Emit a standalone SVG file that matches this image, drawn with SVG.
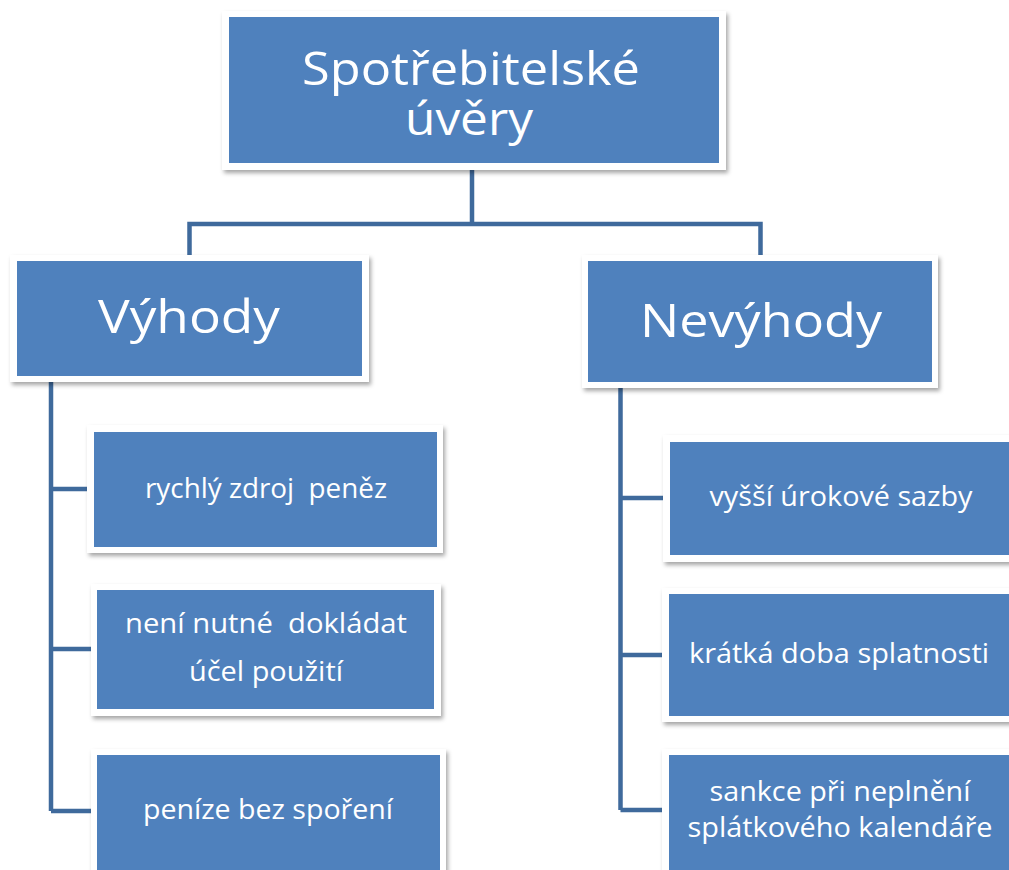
<svg xmlns="http://www.w3.org/2000/svg" width="1009" height="870" viewBox="0 0 1009 870">
  <defs>
    <filter id="shadow" x="-10%" y="-10%" width="125%" height="130%">
      <feDropShadow dx="2" dy="3" stdDeviation="2.2" flood-color="#000" flood-opacity="0.35"/>
    </filter>
  </defs>
  <style>
    .frame { fill: #ffffff; filter: url(#shadow); }
    .box { fill: #4F81BD; }
    .lbl { fill: #ffffff; font-family: "Open Sans", Lato, "Liberation Sans", sans-serif; text-anchor: middle; }
    .big { font-size: 46px; }
    .mid { font-size: 45px; }
    .small { font-size: 27px; }
    .conn { fill: none; stroke: #3F6A9C; stroke-width: 4.5; stroke-linejoin: miter; }
  </style>
  <rect width="1009" height="870" fill="#ffffff"/>

  <!-- connectors -->
  <g id="connectors">
    <path class="conn" d="M472 170 V224 M189.5 255 V224 H760.5 V255"/>
    <path class="conn" d="M51 382 V811 M51 489 H88 M51 649 H92 M51 811 H92"/>
    <path class="conn" d="M620.5 388 V810 M620.5 498 H664 M620.5 655 H663 M620.5 810 H663"/>
  </g>

  <!-- root -->
  <g id="root">
    <rect class="frame" x="222" y="11" width="504" height="159"/>
    <rect class="box" x="229" y="17" width="490" height="146"/>
    <text class="lbl big" x="471" y="85" textLength="338" lengthAdjust="spacingAndGlyphs">Spotřebitelské</text>
    <text class="lbl big" x="469" y="135" textLength="128" lengthAdjust="spacingAndGlyphs">úvěry</text>
  </g>

  <!-- left branch -->
  <g id="vyhody">
    <rect class="frame" x="10" y="255" width="359" height="127"/>
    <rect class="box" x="17" y="261" width="345" height="115"/>
    <text class="lbl mid" x="189" y="333" textLength="182" lengthAdjust="spacingAndGlyphs">Výhody</text>
  </g>

  <g id="rychly-zdroj">
    <rect class="frame" x="87" y="425" width="356" height="128"/>
    <rect class="box" x="94" y="432" width="343" height="115"/>
    <text class="lbl small" x="266" y="498" xml:space="preserve" textLength="242" lengthAdjust="spacingAndGlyphs">rychlý zdroj  peněz</text>
  </g>

  <g id="neni-nutne">
    <rect class="frame" x="91" y="584" width="350" height="132"/>
    <rect class="box" x="97" y="590" width="337" height="119"/>
    <text class="lbl small" x="266" y="633" xml:space="preserve" textLength="282" lengthAdjust="spacingAndGlyphs">není nutné  dokládat</text>
    <text class="lbl small" x="266" y="681" textLength="154" lengthAdjust="spacingAndGlyphs">účel použití</text>
  </g>

  <g id="penize">
    <rect class="frame" x="91" y="749" width="355" height="130"/>
    <rect class="box" x="97" y="755" width="343" height="120"/>
    <text class="lbl small" x="268" y="819" textLength="250" lengthAdjust="spacingAndGlyphs">peníze bez spoření</text>
  </g>

  <!-- right branch -->
  <g id="nevyhody">
    <rect class="frame" x="582" y="255" width="356" height="133"/>
    <rect class="box" x="588" y="261" width="344" height="121"/>
    <text class="lbl mid" x="761" y="337" textLength="242" lengthAdjust="spacingAndGlyphs">Nevýhody</text>
  </g>

  <g id="vyssi-uroky">
    <rect class="frame" x="663" y="435" width="360" height="127"/>
    <rect class="box" x="670" y="442" width="345" height="113"/>
    <text class="lbl small" x="841" y="506" textLength="263" lengthAdjust="spacingAndGlyphs">vyšší úrokové sazby</text>
  </g>

  <g id="kratka-doba">
    <rect class="frame" x="662" y="588" width="360" height="134"/>
    <rect class="box" x="669" y="594" width="345" height="122"/>
    <text class="lbl small" x="839" y="663" textLength="300" lengthAdjust="spacingAndGlyphs">krátká doba splatnosti</text>
  </g>

  <g id="sankce">
    <rect class="frame" x="662" y="749" width="360" height="130"/>
    <rect class="box" x="669" y="755" width="345" height="120"/>
    <text class="lbl small" x="840" y="801" textLength="261" lengthAdjust="spacingAndGlyphs">sankce při neplnění</text>
    <text class="lbl small" x="840" y="837" textLength="305" lengthAdjust="spacingAndGlyphs">splátkového kalendáře</text>
  </g>
</svg>
